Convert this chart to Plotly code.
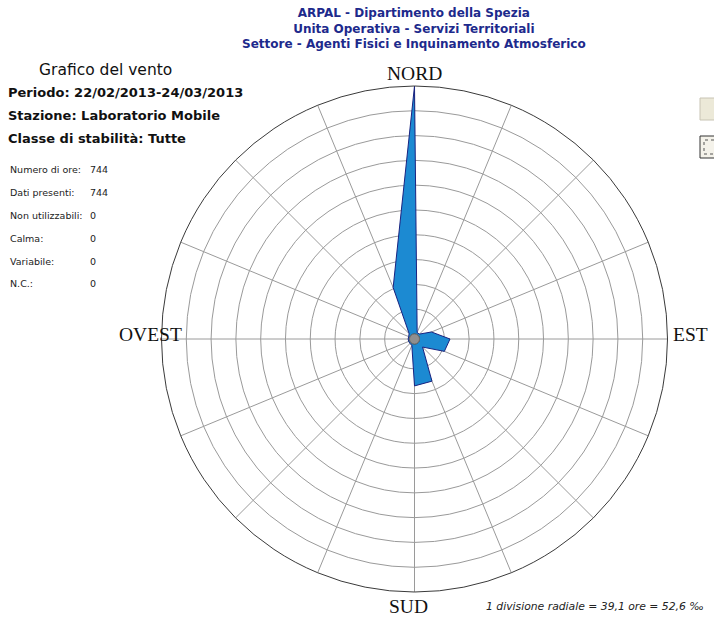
import plotly.graph_objects as go

# Wind rose: hours of wind per direction sector (16 sectors)
directions = ["N", "NNE", "NE", "ENE", "E", "ESE", "SE", "SSE",
              "S", "SSW", "SW", "WSW", "W", "WNW", "NW", "NNW"]
hours = [391, 3, 3, 21, 48, 43, 10, 64, 66, 3, 2, 2, 2, 2, 4, 80]

division_hours = 39.1
n_divisions = 10

header_lines = [
    "ARPAL - Dipartimento della Spezia",
    "Unita Operativa - Servizi Territoriali",
    "Settore - Agenti Fisici e Inquinamento Atmosferico",
]
info_lines = [
    "Periodo: 22/02/2013-24/03/2013",
    "Stazione: Laboratorio Mobile",
    "Classe di stabilità: Tutte",
]
stat_labels = ["Numero di ore:", "Dati presenti:", "Non utilizzabili:",
               "Calma:", "Variabile:", "N.C.:"]
stat_values = ["744", "744", "0", "0", "0", "0"]
scale_note = "1 divisione radiale = 39,1 ore = 52,6 ‰"

W, H = 714, 619


def px(x):
    return x / W


def py(y):
    return 1 - y / H


# polar area geometry (pixels)
cx, cy, R = 414.5, 339.0, 253.0

fill_color = "#1c8ad2"
edge_color = "#1a2380"
grid_color = "#9a9a9a"

fig = go.Figure()
fig.add_trace(go.Scatterpolar(
    r=hours + hours[:1],
    theta=directions + directions[:1],
    mode="lines",
    fill="toself",
    fillcolor=fill_color,
    line=dict(color=edge_color, width=1),
    hoverinfo="skip",
    showlegend=False,
))

fig.update_layout(
    width=W, height=H,
    margin=dict(l=0, r=0, t=0, b=0),
    paper_bgcolor="white",
    plot_bgcolor="white",
    polar=dict(
        domain=dict(x=[px(cx - R), px(cx + R)], y=[py(cy + R), py(cy - R)]),
        bgcolor="white",
        hole=0.02,
        radialaxis=dict(
            range=[0, division_hours * n_divisions],
            tick0=0, dtick=division_hours,
            showticklabels=False, ticks="",
            showline=False,
            gridcolor=grid_color, gridwidth=1,
        ),
        angularaxis=dict(
            type="category",
            categoryarray=directions,
            rotation=90, direction="clockwise",
            showticklabels=False, ticks="",
            showline=True, linecolor="#3a3a3a", linewidth=1,
            gridcolor=grid_color, gridwidth=1,
        ),
    ),
)

annotations = []
# three-line header as one block
annotations.append(dict(
    text="<br>".join("<b>" + line + "</b>" for line in header_lines),
    x=px(cx - 1), y=py(28), xref="paper", yref="paper",
    xanchor="center", yanchor="middle", align="center", showarrow=False,
    font=dict(family="DejaVu Sans", size=12, color="#1d2a8c")))

# cardinal labels
card_font = dict(family="Liberation Serif", size=19.5, color="#111111")
annotations += [
    dict(text="NORD", x=px(cx), y=py(73), xanchor="center", yanchor="middle"),
    dict(text="SUD", x=px(cx - 6), y=py(606), xanchor="center", yanchor="middle"),
    dict(text="OVEST", x=px(184), y=py(334), xanchor="right", yanchor="middle"),
    dict(text="EST", x=px(671), y=py(334), xanchor="left", yanchor="middle"),
]
for a in annotations[-4:]:
    a.update(xref="paper", yref="paper", showarrow=False, font=card_font)

annotations.append(dict(
    text="Grafico del vento", x=px(37), y=py(70), xref="paper", yref="paper",
    xanchor="left", yanchor="middle", showarrow=False,
    font=dict(family="DejaVu Sans", size=15.5, color="#111111")))

for i, line in enumerate(info_lines):
    annotations.append(dict(
        text="<b>" + line + "</b>", x=px(6), y=py(92 + 23 * i),
        xref="paper", yref="paper", xanchor="left", yanchor="middle",
        showarrow=False,
        font=dict(family="DejaVu Sans", size=13, color="#111111")))

stat_font = dict(family="DejaVu Sans", size=9.5, color="#222222")
for i, (lab, val) in enumerate(zip(stat_labels, stat_values)):
    y = py(170 + 22.8 * i)
    annotations.append(dict(text=lab, x=px(8), y=y, xref="paper", yref="paper",
                            xanchor="left", yanchor="middle", showarrow=False,
                            font=stat_font))
    annotations.append(dict(text=val, x=px(88), y=y, xref="paper", yref="paper",
                            xanchor="left", yanchor="middle", showarrow=False,
                            font=stat_font))

annotations.append(dict(
    text=scale_note, x=px(484), y=py(606), xref="paper", yref="paper",
    xanchor="left", yanchor="middle", showarrow=False,
    font=dict(family="DejaVu Sans", size=10.8, color="#222222", style="italic")))

fig.update_layout(annotations=annotations)

# calm circle at the centre and the clipped window controls at the right edge
fig.update_layout(shapes=[
    dict(type="circle", xref="paper", yref="paper",
         x0=px(cx - 5), x1=px(cx + 5), y0=py(cy + 5), y1=py(cy - 5),
         fillcolor="#8f8f8f", line=dict(color="#6f6f6f", width=1)),
    dict(type="rect", xref="paper", yref="paper",
         x0=px(700), x1=px(720), y0=py(120), y1=py(98),
         fillcolor="#ece9d8", line=dict(color="#c8c4b4", width=1)),
    dict(type="rect", xref="paper", yref="paper",
         x0=px(700), x1=px(720), y0=py(158), y1=py(136),
         fillcolor="#f4f2ea", line=dict(color="#333333", width=1)),
    dict(type="rect", xref="paper", yref="paper",
         x0=px(704), x1=px(720), y0=py(154), y1=py(140),
         fillcolor="rgba(0,0,0,0)", line=dict(color="#555555", width=1, dash="dot")),
])

fig.write_html("out.html")
